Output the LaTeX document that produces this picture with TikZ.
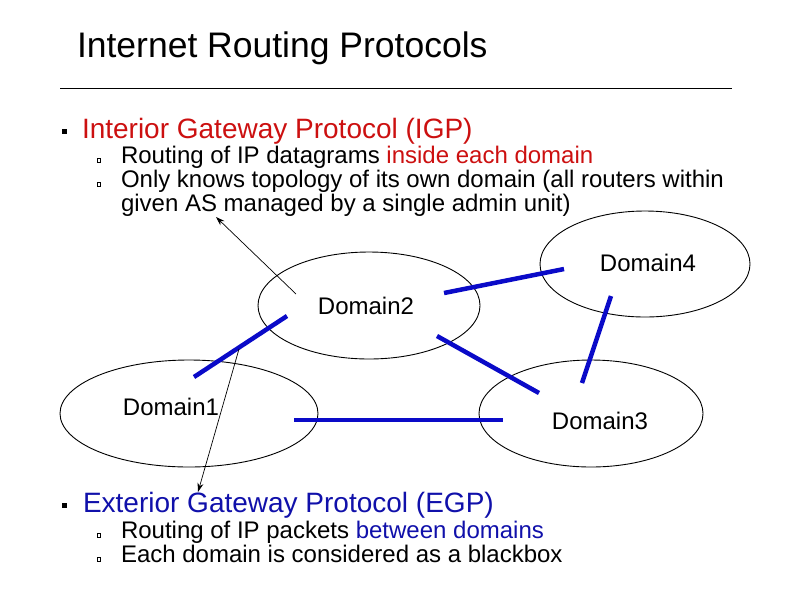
\documentclass[tikz,border=0pt]{standalone}
\usepackage{fontspec}
\setmainfont{Liberation Sans}
\usetikzlibrary{shapes.geometric, arrows.meta, positioning, calc}
\definecolor{igpred}{RGB}{204,16,16}
\definecolor{egpblue}{RGB}{16,16,170}
\definecolor{linkblue}{RGB}{10,10,200}

\begin{document}
\begin{tikzpicture}[
    x=1pt, y=-1pt,
    every node/.style={inner sep=0pt, outer sep=0pt},
    titletext/.style={font=\fontsize{35.5}{40}\selectfont, anchor=base west},
    headtext/.style={font=\fontsize{28}{32}\selectfont, anchor=base west},
    itemtext/.style={font=\fontsize{24}{24}\selectfont, anchor=base west, align=left},
    bigbullet/.style={fill=black, minimum size=5pt},
    smallbullet/.style={draw=black, line width=0.7pt, minimum width=3.5pt, minimum height=4.5pt},
    domainoval/.style={draw, ellipse, line width=0.9pt},
    domlabel/.style={font=\fontsize{24}{24}\selectfont},
    link/.style={draw=linkblue, line width=4.5pt},
    pointer/.style={draw, line width=0.7pt, -{Stealth[length=9pt, width=6pt]}}
]
\useasboundingbox (0,0) rectangle (794,595);

% title and rule
\node[titletext] (title) at (77,57) {Internet Routing Protocols};
\coordinate (rulel) at (60,88);
\coordinate (ruler) at (732,88);
\draw[line width=0.8pt] (rulel) -- (ruler);

% interior gateway protocol
\node[bigbullet] (igpb) at (64.5,131.5) {};
\node[headtext, text=igpred] (igp) at (82,138) {Interior Gateway Protocol (IGP)};
\node[smallbullet] (igpb1) at (99,160.5) {};
\node[itemtext] (igp1) at (121,163) {Routing of IP datagrams \textcolor{igpred}{inside each domain}};
\node[smallbullet] (igpb2) at (99,184.5) {};
% base of a two-line node is its last line
\node[itemtext] (igp2) at (121,211) {Only knows topology of its own domain (all routers within\\given AS managed by a single admin unit)};

% domains
\node[domainoval, minimum width=258pt, minimum height=107pt] (d1) at (189,413.5) {};
\node[domainoval, minimum width=222pt, minimum height=107pt] (d2) at (369,305.5) {};
\node[domainoval, minimum width=224pt, minimum height=107pt] (d3) at (591,413.5) {};
\node[domainoval, minimum width=210pt, minimum height=106pt] (d4) at (645,264) {};
\node[domlabel] (d1txt) at (171,407) {Domain1};
\node[domlabel] (d2txt) at (366,306) {Domain2};
\node[domlabel] (d3txt) at (600,421) {Domain3};
\node[domlabel] (d4txt) at (648,263) {Domain4};

% links between domains
\coordinate (l12a) at (194,377);
\coordinate (l12b) at (287,316);
\coordinate (l24a) at (444,293);
\coordinate (l24b) at (564,269);
\coordinate (l23a) at (437,336);
\coordinate (l23b) at (539,393);
\coordinate (l43a) at (611,296);
\coordinate (l43b) at (582,383);
\coordinate (l13a) at (294,420);
\coordinate (l13b) at (503,420);
\draw[link] (l12a) -- (l12b);
\draw[link] (l24a) -- (l24b);
\draw[link] (l23a) -- (l23b);
\draw[link] (l43a) -- (l43b);
\draw[link] (l13a) -- (l13b);

% pointers
\coordinate (igpfrom) at (296,294);
\coordinate (igpto) at (216,217);
\coordinate (egpfrom) at (239,349);
\coordinate (egpto) at (198,492);
\draw[pointer] (igpfrom) -- (igpto);
\draw[pointer] (egpfrom) -- (egpto);

% exterior gateway protocol
\node[bigbullet] (egpb) at (64.5,505) {};
\node[headtext, text=egpblue] (egp) at (83,512) {Exterior Gateway Protocol (EGP)};
\node[smallbullet] (egpb1) at (99,535.5) {};
\node[itemtext] (egp1) at (121,538) {Routing of IP packets \textcolor{egpblue}{between domains}};
\node[smallbullet] (egpb2) at (99,559.5) {};
\node[itemtext] (egp2) at (121,562) {Each domain is considered as a blackbox};
\end{tikzpicture}
\end{document}
